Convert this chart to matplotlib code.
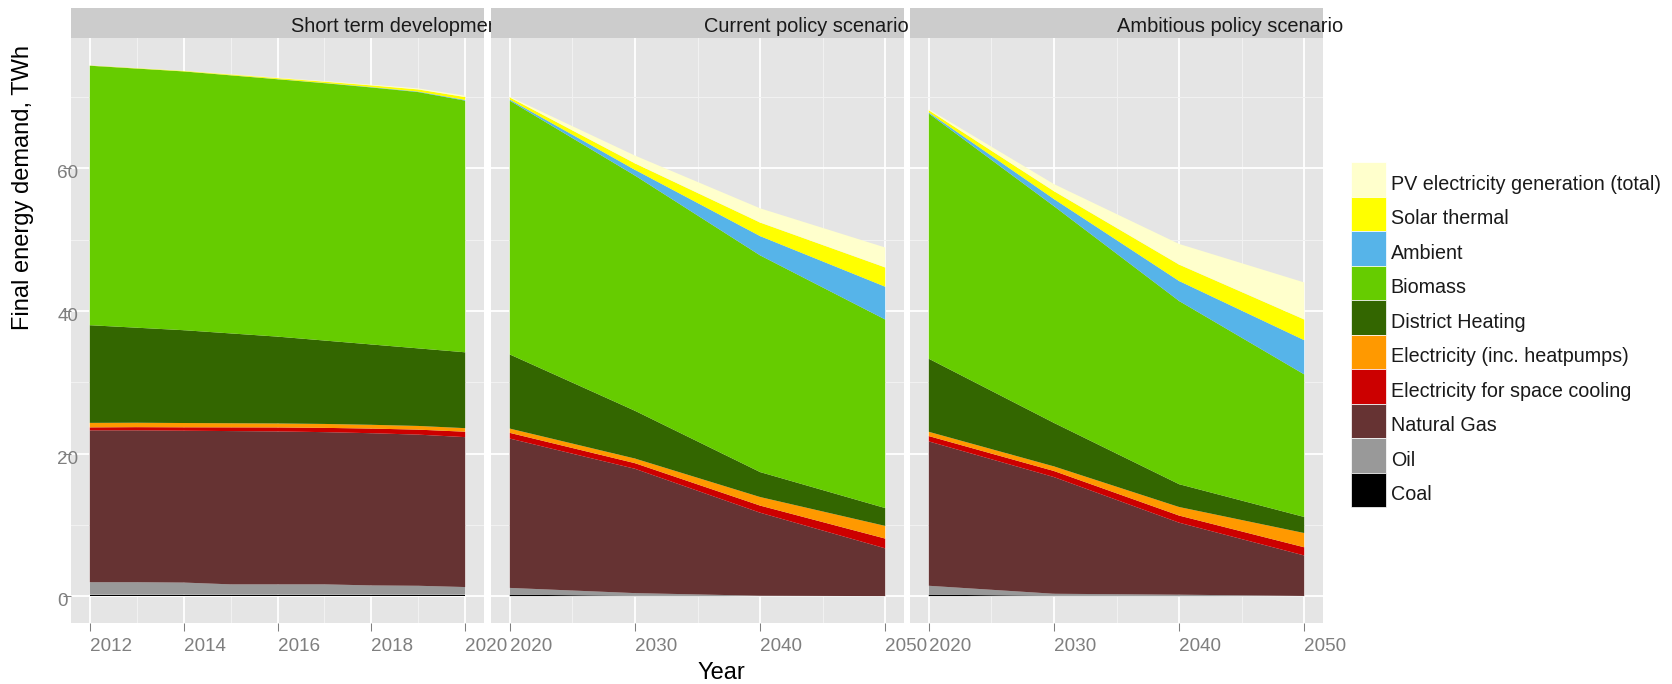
import matplotlib
matplotlib.use("Agg")
import matplotlib.pyplot as plt
from matplotlib.patches import Rectangle
from matplotlib.transforms import ScaledTranslation

plt.rcParams['font.family'] = ['Liberation Sans', 'DejaVu Sans']

W, H = 1672, 684

# stacking order, bottom to top
labels = ["Coal", "Oil", "Natural Gas", "Electricity for space cooling",
          "Electricity (inc. heatpumps)", "District Heating", "Biomass",
          "Ambient", "Solar thermal", "PV electricity generation (total)"]
colors = ["#000000", "#999999", "#663333", "#CC0000", "#FF9900",
          "#336600", "#66CC00", "#56B4E9", "#FFFF00", "#FFFFCC"]

panel_titles = ["Short term development", "Current policy scenario",
                "Ambitious policy scenario"]

years_short = [2012, 2013, 2014, 2015, 2016, 2017, 2018, 2019, 2020]
years_long = [2020, 2030, 2040, 2050]

# Short term development, TWh
coal_st = [0.2, 0.2, 0.2, 0.2, 0.2, 0.2, 0.2, 0.2, 0.2]
oil_st = [1.75, 1.75, 1.7, 1.45, 1.45, 1.45, 1.3, 1.25, 1.07]
gas_st = [21.3, 21.3, 21.3, 21.5, 21.45, 21.35, 21.35, 21.2, 21.03]
cool_st = [0.42, 0.45, 0.48, 0.52, 0.56, 0.6, 0.65, 0.7, 0.76]
elec_st = [0.63, 0.62, 0.6, 0.58, 0.56, 0.55, 0.53, 0.52, 0.5]
dh_st = [13.7, 13.33, 13.02, 12.6, 12.18, 11.7, 11.27, 10.88, 10.64]
bio_st = [36.4, 36.35, 36.3, 36.2, 36.1, 36.1, 36.05, 35.95, 35.3]
amb_st = [0.0, 0.0, 0.0, 0.01, 0.02, 0.03, 0.05, 0.07, 0.1]
sol_st = [0.02, 0.04, 0.06, 0.1, 0.14, 0.18, 0.24, 0.3, 0.4]
pv_st = [0.01, 0.02, 0.03, 0.04, 0.06, 0.08, 0.1, 0.15, 0.2]

# Current policy scenario
coal_cp = [0.2, 0.05, 0.0, 0.0]
oil_cp = [0.95, 0.37, 0.05, 0.0]
gas_cp = [20.95, 17.44, 11.65, 6.7]
cool_cp = [0.8, 0.79, 1.0, 1.37]
elec_cp = [0.6, 0.65, 1.2, 1.78]
dh_cp = [10.4, 6.7, 3.5, 2.5]
bio_cp = [35.6, 33.0, 30.4, 26.45]
amb_cp = [0.15, 0.8, 2.7, 4.6]
sol_cp = [0.3, 0.9, 1.9, 2.7]
pv_cp = [0.1, 1.1, 2.0, 2.8]

# Ambitious policy scenario
coal_ap = [0.2, 0.05, 0.02, 0.0]
oil_ap = [1.25, 0.28, 0.18, 0.02]
gas_ap = [20.25, 16.37, 10.1, 5.68]
cool_ap = [0.75, 0.85, 1.0, 1.15]
elec_ap = [0.6, 0.65, 1.2, 2.0]
dh_ap = [10.25, 6.1, 3.2, 2.25]
bio_ap = [34.4, 30.4, 25.7, 20.0]
amb_ap = [0.15, 1.0, 2.8, 4.8]
sol_ap = [0.3, 1.1, 2.3, 2.9]
pv_ap = [0.15, 1.0, 2.9, 5.2]

layers = [
    [coal_st, oil_st, gas_st, cool_st, elec_st, dh_st, bio_st, amb_st, sol_st, pv_st],
    [coal_cp, oil_cp, gas_cp, cool_cp, elec_cp, dh_cp, bio_cp, amb_cp, sol_cp, pv_cp],
    [coal_ap, oil_ap, gas_ap, cool_ap, elec_ap, dh_ap, bio_ap, amb_ap, sol_ap, pv_ap],
]
xs = [years_short, years_long, years_long]

fig = plt.figure(figsize=(W / 100, H / 100), dpi=100)

grey50 = "#7F7F7F"
panel_left = [71, 491, 910]
panel_w = 413
panel_top, panel_bot = 37.7, 622.7
strip_h = 29.7
title_x = [0.532, 0.516, 0.502]

for i in range(3):
    ax = fig.add_axes([panel_left[i] / W, 1 - panel_bot / H,
                       panel_w / W, (panel_bot - panel_top) / H])
    ax.set_facecolor("#E5E5E5")
    ax.stackplot(xs[i], *layers[i], colors=colors, linewidth=0)
    ax.set_ylim(-3.73, 78.33)
    if i == 0:
        ax.set_xlim(2011.6, 2020.4)
        ax.set_xticks([2012, 2014, 2016, 2018, 2020])
        ax.set_xticks([2013, 2015, 2017, 2019], minor=True)
    else:
        ax.set_xlim(2018.5, 2051.5)
        ax.set_xticks([2020, 2030, 2040, 2050])
        ax.set_xticks([2025, 2035, 2045], minor=True)
    ax.set_yticks([0, 20, 40, 60])
    ax.set_yticks([10, 30, 50, 70], minor=True)

    ax.set_axisbelow(True)
    ax.grid(which="major", color="white", linewidth=1.3)
    ax.grid(which="minor", color="#F2F2F2", linewidth=0.7)
    for s in ax.spines.values():
        s.set_visible(False)

    ax.tick_params(axis="x", which="major", length=5.8, width=0.75, color=grey50,
                   labelcolor=grey50, labelsize=13.6, pad=5.5)
    ax.tick_params(which="minor", length=0)
    for lab in ax.get_xticklabels():
        lab.set_ha("left")
    if i == 0:
        ax.tick_params(axis="y", which="major", length=5.8, width=0.75, color=grey50,
                       labelcolor=grey50, labelsize=13.6, pad=4)
        # labels sit just under their gridline, a little higher than plain 'top'
        up = ScaledTranslation(0, 3 / 100, fig.dpi_scale_trans)
        for t in ax.yaxis.get_major_ticks():
            t.label1.set_ha("left")
            t.label1.set_va("top")
            t.label1.set_transform(t.label1.get_transform() + up)
    else:
        ax.tick_params(axis="y", left=False, labelleft=False)

    # facet strip
    ax.add_patch(Rectangle((0, 1), 1, strip_h / (panel_bot - panel_top),
                           transform=ax.transAxes, clip_on=False,
                           facecolor="#CCCCCC", edgecolor="none"))
    ax.text(title_x[i], 1 + 6 / (panel_bot - panel_top), panel_titles[i],
            transform=ax.transAxes, ha="left", va="baseline",
            fontsize=14.4, color="#1A1A1A")

fig.text(23 / W, 1 - 330 / H, "Final energy demand, TWh", rotation=90,
         ha="center", va="bottom", fontsize=17)
fig.text(698 / W, 1 - 662 / H, "Year", ha="left", va="top", fontsize=17)

# legend, pixel coordinates
lax = fig.add_axes([0, 0, 1, 1])
lax.set_xlim(0, W)
lax.set_ylim(H, 0)
lax.axis("off")
key_h = 34.5
for j, (lab, col) in enumerate(zip(labels[::-1], colors[::-1])):
    top = 162.3 + j * key_h
    lax.add_patch(Rectangle((1351, top), 35, key_h, facecolor=col,
                            edgecolor="white", linewidth=0.5))
    lax.text(1390.7, top + key_h / 2 + 10, lab, ha="left", va="baseline",
             fontsize=14.2, color="#1A1A1A")

fig.savefig("out.png", dpi=100)
